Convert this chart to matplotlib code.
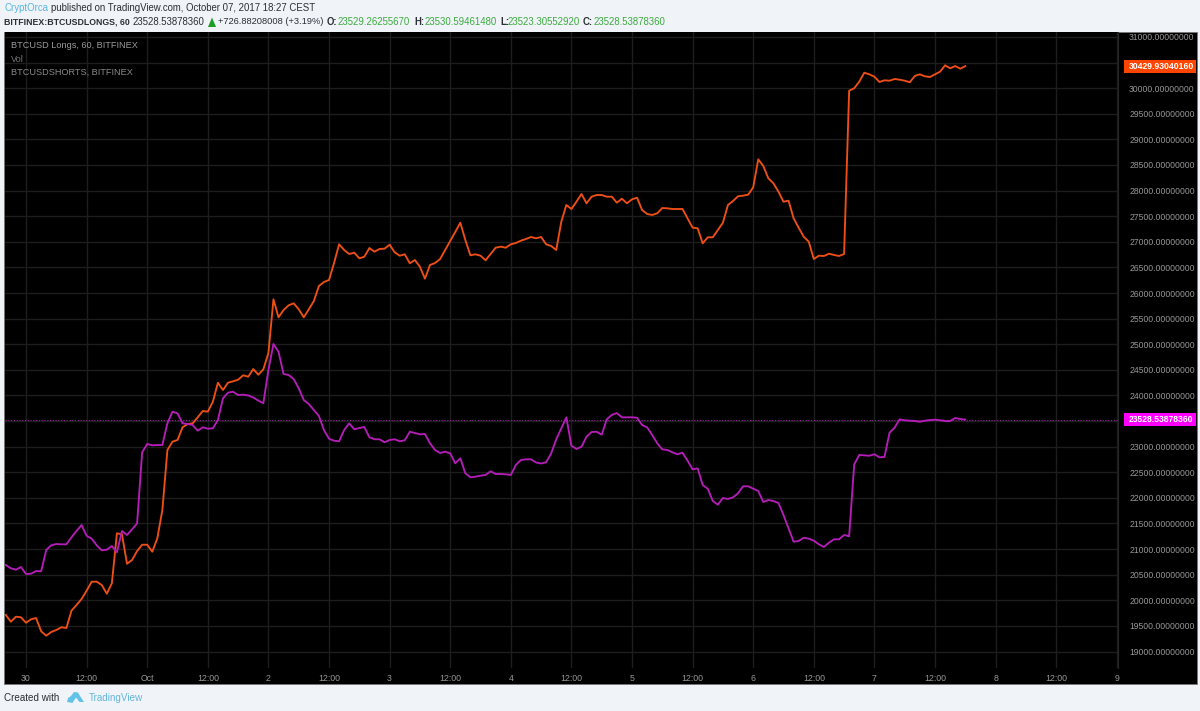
import numpy as np
import matplotlib
matplotlib.use("Agg")
import matplotlib.pyplot as plt
from matplotlib.patches import Rectangle, Polygon

plt.rcParams["font.family"] = ["Liberation Sans", "DejaVu Sans"]

## DATA ##
# Hourly closes, first point is Sep 29 20:00, hours counted from Sep 30 00:00
longs = [19713, 19582, 19680, 19668, 19562, 19629, 19654, 19394, 19309, 19381,
         19420, 19473, 19459, 19797, 19908, 20025, 20187, 20363, 20363, 20299,
         20129, 20332, 21308, 21289, 20714, 20787, 20962, 21085, 21085, 20949,
         21210, 21763, 22935, 23097, 23130, 23378, 23442, 23456, 23573, 23696,
         23683, 23878, 24249, 24106, 24249, 24276, 24307, 24393, 24366, 24516,
         24405, 24510, 24829, 25877, 25526, 25668, 25760, 25799, 25682, 25526,
         25682, 25844, 26137, 26215, 26254, 26586, 26951, 26840, 26762, 26787,
         26678, 26709, 26879, 26807, 26860, 26866, 26944, 26795, 26729, 26756,
         26580, 26645, 26514, 26280, 26547, 26586, 26664, 26840, 27016, 27192,
         27373, 27035, 26737, 26756, 26729, 26639, 26762, 26885, 26905, 26885,
         26951, 26977, 27022, 27055, 27094, 27069, 27094, 26951, 26918, 26840,
         27393, 27719, 27641, 27783, 27934, 27752, 27881, 27914, 27914, 27881,
         27881, 27764, 27842, 27752, 27830, 27861, 27621, 27543, 27524, 27557,
         27660, 27654, 27641, 27641, 27641, 27459, 27276, 27264, 26971, 27088,
         27088, 27231, 27373, 27719, 27797, 27889, 27901, 27920, 28064, 28611,
         28480, 28240, 28142, 27979, 27783, 27803, 27459, 27276, 27100, 27002,
         26664, 26729, 26723, 26768, 26743, 26723, 26762, 29951, 29998, 30127,
         30302, 30271, 30224, 30121, 30154, 30146, 30179, 30166, 30146, 30115,
         30238, 30271, 30232, 30218, 30271, 30322, 30447, 30388, 30433, 30380,
         30429.93]

shorts = [20689, 20625, 20597, 20650, 20513, 20519, 20572, 20566, 20982, 21074,
          21099, 21093, 21093, 21230, 21353, 21470, 21261, 21203, 21074, 20976,
          20988, 21060, 20937, 21353, 21275, 21386, 21503, 22890, 23052, 23026,
          23032, 23032, 23456, 23683, 23651, 23456, 23442, 23423, 23312, 23378,
          23351, 23358, 23520, 23944, 24054, 24073, 24009, 24015, 24000, 23960,
          23901, 23847, 24497, 25005, 24854, 24419, 24399, 24321, 24140, 23911,
          23833, 23716, 23599, 23325, 23155, 23116, 23105, 23325, 23456, 23339,
          23364, 23384, 23183, 23144, 23144, 23085, 23130, 23144, 23105, 23124,
          23292, 23267, 23241, 23247, 23066, 22935, 22876, 22902, 22870, 22675,
          22773, 22480, 22402, 22413, 22433, 22447, 22519, 22466, 22466, 22460,
          22447, 22642, 22739, 22753, 22753, 22691, 22671, 22695, 22870, 23144,
          23358, 23573, 23019, 22954, 22999, 23194, 23286, 23292, 23233, 23534,
          23618, 23657, 23573, 23573, 23573, 23565, 23423, 23378, 23228, 23066,
          22948, 22935, 22890, 22851, 22882, 22726, 22558, 22577, 22251, 22179,
          21939, 21867, 21997, 21978, 22011, 22089, 22226, 22226, 22179, 22134,
          21919, 21958, 21939, 21900, 21665, 21406, 21144, 21158, 21222, 21203,
          21164, 21093, 21041, 21125, 21191, 21191, 21275, 21250, 22652, 22837,
          22831, 22823, 22851, 22792, 22798, 23273, 23370, 23534, 23515, 23507,
          23501, 23487, 23507, 23520, 23526, 23515, 23501, 23501, 23560, 23540,
          23528.54]

hours = np.arange(len(longs)) - 4

x_ticks = [0, 12, 24, 36, 48, 60, 72, 84, 96, 108, 120, 132, 144, 156, 168, 180, 192, 204, 216]
x_labels = ["30", "12:00", "Oct", "12:00", "2", "12:00", "3", "12:00", "4", "12:00",
            "5", "12:00", "6", "12:00", "7", "12:00", "8", "12:00", "9"]
y_ticks = list(range(19000, 31001, 500))
hidden_y_labels = [23500, 30500]  # the last price boxes sit on top of these
last_labels = ["30429.93040160", "23528.53878360"]

W, H = 1200, 711
BG = "#f0f3f8"
ORANGE = "#ee4f16"
MAGENTA = "#b51db8"
GRID = "#1d1d1d"
AXIS_TEXT = "#979797"
GREEN = "#3bab3f"
BLUE = "#58b7e0"
DARK = "#2b2f36"


#############################
#        PLOTTING           #
#############################

def fx(px):
    return px / W

def fy(px):
    return 1 - px / H

# Text placed by pixel position in the figure
def put(px, py, s, color=DARK, size=6.9, **kw):
    fig.text(fx(px), fy(py), s, color=color, fontsize=size, va="center", **kw)

fig = plt.figure(figsize=(W / 100, H / 100), dpi=100, facecolor=BG)

# black panel behind the chart and the price scale
fig.add_artist(Rectangle((fx(4), fy(683.5)), fx(1196.5 - 4), 651.5 / H, transform=fig.transFigure,
                         facecolor="black", edgecolor="#777777", linewidth=0.7, zorder=0))

ax = fig.add_axes([fx(4.5), fy(668), fx(1118 - 4.5), (668 - 32) / H], facecolor="black", zorder=1)
ax.set_xlim(-4.26, 216.24)
ax.set_ylim(18678, 31097)
ax.grid(True, color=GRID, linewidth=1)
ax.set_axisbelow(True)
for side in ["top", "left", "bottom"]:
    ax.spines[side].set_visible(False)
ax.spines["right"].set_color("#262626")

ax.set_xticks(x_ticks)
ax.set_xticklabels(x_labels)
ax.yaxis.tick_right()
ax.set_yticks(y_ticks)
ax.set_yticklabels(["" if v in hidden_y_labels else f"{v}.00000000" for v in y_ticks])
ax.tick_params(axis="x", length=0, pad=4.5, labelsize=6.3, labelcolor=AXIS_TEXT)
ax.tick_params(axis="y", length=0, pad=8, labelsize=6.2, labelcolor=AXIS_TEXT)

ax.axhline(shorts[-1], color=MAGENTA, linewidth=0.8, linestyle=(0, (1, 1.5)), alpha=0.85)
ax.plot(hours, longs, color=ORANGE, linewidth=1.35)
ax.plot(hours, shorts, color=MAGENTA, linewidth=1.35)

# last price boxes on the scale
for value, label, box in [(longs[-1], last_labels[0], "#ff4400"), (shorts[-1], last_labels[1], "#ff00ff")]:
    ypx = fig.transFigure.inverted().transform(ax.transData.transform((0, value)))[1]
    fig.add_artist(Rectangle((fx(1123.5), ypx - 6.5 / H), fx(72), 13 / H, transform=fig.transFigure,
                             facecolor=box, edgecolor="none", zorder=3))
    fig.text(fx(1129), ypx, label, color="white", fontsize=6.2, va="center", fontweight="bold", zorder=4)

# header
put(4.5, 8, "CryptOrca", color=BLUE)
put(51, 8, "published on TradingView.com, October 07, 2017 18:27 CEST")
put(4.5, 22, "BITFINEX:BTCUSDLONGS, 60", size=6.3, fontweight="bold")
put(133, 22, "23528.53878360")
fig.add_artist(Polygon([(fx(208), fy(27)), (fx(216), fy(27)), (fx(212), fy(17.5))],
                       transform=fig.transFigure, facecolor="#1f9d25", edgecolor="none"))
put(218, 22, "+726.88208008 (+3.19%)", size=6.7)
for x_key, key, x_val, val in [(327, "O:", 338, "23529.26255670"), (414, "H:", 424.5, "23530.59461480"),
                               (500, "L:", 508, "23523.30552920"), (583, "C:", 594, "23528.53878360")]:
    put(x_key, 22, key, fontweight="bold")
    put(x_val, 22, val, color=GREEN)

# study names
put(11, 46, "BTCUSD Longs, 60, BITFINEX", color="#9a9a9a", size=6.6, zorder=5)
put(11, 59, "Vol", color="#777777", size=6.6, zorder=5)
put(11, 72, "BTCUSDSHORTS, BITFINEX", color="#8a8a8a", size=6.6, zorder=5)

# footer with the little cloud logo
put(4.5, 698, "Created with", size=7.1)
fig.add_artist(Polygon([(fx(67), fy(702)), (fx(68), fy(698)), (fx(71), fy(696)), (fx(74), fy(692)),
                        (fx(78), fy(692.5)), (fx(80), fy(696)), (fx(84), fy(702)), (fx(79.5), fy(702)),
                        (fx(76), fy(697.5)), (fx(72.5), fy(703))],
                       transform=fig.transFigure, facecolor="#62c3e6", edgecolor="none"))
put(89, 698, "TradingView", color="#62b6dc", size=7.1)

fig.savefig("out.png", dpi=100, facecolor=BG)
